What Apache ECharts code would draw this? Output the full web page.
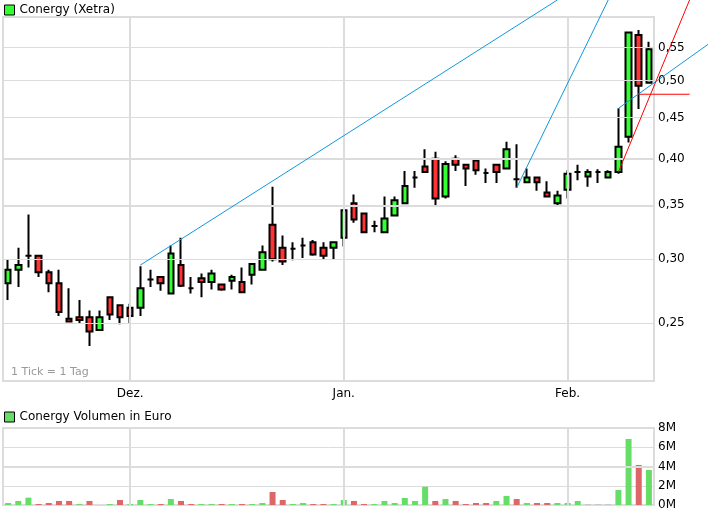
<!DOCTYPE html>
<html><head><meta charset="utf-8">
<script src="https://cdn.jsdelivr.net/npm/echarts@6/dist/echarts.min.js"></script>
<style>html,body{margin:0;padding:0;background:#fff}#c{width:708px;height:517px}</style>
</head><body><div id="c"></div>
<script>
// ---- data ----
const monthNames = ['Dez.', 'Jan.', 'Feb.'];
const monthStartIndex = [12, 33, 55];
const opens  = [0.280,0.291,0.303,0.303,0.289,0.280,0.253,0.254,0.254,0.245,0.269,0.263,0.261,0.261,0.283,0.285,
                0.272,0.295,0.276,0.284,0.281,0.279,0.282,0.281,0.287,0.291,0.331,0.310,0.309,0.312,0.315,0.310,
                0.310,0.319,0.352,0.342,0.330,0.324,0.340,0.352,0.379,0.391,0.400,0.359,0.400,0.393,0.398,0.384,
                0.393,0.389,0.377,0.374,0.379,0.363,0.352,0.366,0.385,0.380,0.385,0.379,0.385,0.426,0.570,0.497];
const closes = [0.291,0.295,0.303,0.289,0.280,0.258,0.251,0.252,0.244,0.254,0.256,0.254,0.255,0.276,0.283,0.280,
                0.305,0.278,0.276,0.281,0.288,0.275,0.285,0.273,0.296,0.306,0.300,0.298,0.309,0.312,0.304,0.303,
                0.315,0.345,0.336,0.324,0.330,0.337,0.355,0.370,0.379,0.385,0.357,0.394,0.393,0.389,0.387,0.384,
                0.385,0.411,0.377,0.379,0.374,0.359,0.360,0.383,0.385,0.385,0.385,0.385,0.414,0.574,0.493,0.547];
const lows   = [0.267,0.277,0.293,0.285,0.273,0.255,0.251,0.250,0.234,0.245,0.252,0.249,0.250,0.255,0.277,0.274,
                0.272,0.277,0.272,0.269,0.275,0.274,0.275,0.273,0.279,0.291,0.298,0.295,0.299,0.301,0.303,0.300,
                0.300,0.311,0.333,0.324,0.324,0.324,0.340,0.352,0.368,0.385,0.350,0.357,0.386,0.370,0.382,0.373,
                0.373,0.389,0.368,0.374,0.365,0.359,0.349,0.357,0.376,0.369,0.373,0.378,0.383,0.419,0.461,0.497];
const highs  = [0.300,0.310,0.341,0.303,0.291,0.291,0.276,0.267,0.259,0.259,0.269,0.263,0.264,0.294,0.291,0.285,
                0.312,0.319,0.285,0.288,0.291,0.279,0.287,0.293,0.296,0.312,0.369,0.321,0.315,0.319,0.317,0.315,
                0.315,0.345,0.361,0.342,0.335,0.359,0.359,0.386,0.386,0.411,0.408,0.397,0.404,0.394,0.398,0.389,
                0.393,0.420,0.417,0.389,0.379,0.375,0.365,0.387,0.393,0.388,0.388,0.387,0.462,0.574,0.578,0.559];
// volume in million euro
const volumesM = [0.21,0.42,0.76,0.10,0.21,0.42,0.42,0.10,0.42,0.00,0.10,0.52,0.10,0.52,0.10,0.10,
                  0.62,0.42,0.10,0.10,0.10,0.10,0.10,0.10,0.10,0.21,1.35,0.52,0.10,0.21,0.10,0.10,
                  0.10,0.52,0.42,0.10,0.10,0.42,0.21,0.73,0.42,1.90,0.42,0.62,0.42,0.10,0.21,0.21,
                  0.42,0.94,0.62,0.21,0.21,0.21,0.21,0.21,0.42,0.10,0.10,0.10,1.56,6.86,4.16,3.64];
const priceTicks = [0.25, 0.30, 0.35, 0.40, 0.45, 0.50, 0.55];
const priceTickLabels = ['0,25', '0,30', '0,35', '0,40', '0,45', '0,50', '0,55'];
const majorPriceTicks = [0.35, 0.40];
const volumeMajorTick = 4;
// trend lines: [fromIndex, fromPrice, toIndex, toPrice]
const blueTrendLines = [
  [13, 0.295, 53.57, 0.630],
  [50, 0.368, 58.85, 0.630],
  [60.1, 0.462, 68.81, 0.557]
];
const redTrendLines = [
  [60.48, 0.385, 67.37, 0.630],
  [61.96, 0.481, 66.97, 0.481]
];

// ---- chart ----
const FONT = 'DejaVu Sans';
const GRID = '#dcdcdc';
const categories = opens.map((_, i) => {
  const k = monthStartIndex.indexOf(i);
  return k >= 0 ? monthNames[k] : '';
});
const candleData = opens.map((o, i) => [o, closes[i], lows[i], highs[i]]);
const volData = volumesM.map((v, i) => {
  let c = '#66dd66';
  if (i > 0) {
    if (closes[i] < closes[i - 1]) c = '#dd6666';
    else if (closes[i] === closes[i - 1]) c = '#c8c8c8';
  }
  return { value: v, itemStyle: { color: c } };
});
const vLines = monthStartIndex.map(i => ({ xAxis: i, lineStyle: { color: GRID, width: 2, type: 'solid' }, label: { show: false } }));

const chart = echarts.init(document.getElementById('c'), null, { renderer: 'canvas' });
chart.setOption({
  animation: false,
  backgroundColor: '#fff',
  textStyle: { fontFamily: FONT },
  legend: [
    { left: 4, top: 4, padding: 0, itemWidth: 10, itemHeight: 10, selectedMode: false,
      data: [{ name: 'Conergy (Xetra)', icon: 'rect', itemStyle: { color: '#33ff33', borderColor: '#000', borderWidth: 1 } }],
      textStyle: { fontSize: 12, color: '#000', fontFamily: FONT } },
    { left: 4, top: 411, padding: 0, itemWidth: 10, itemHeight: 10, selectedMode: false,
      data: [{ name: 'Conergy Volumen in Euro', icon: 'rect', itemStyle: { color: '#66dd66', borderColor: '#000', borderWidth: 1 } }],
      textStyle: { fontSize: 12, color: '#000', fontFamily: FONT } }
  ],
  title: { text: '1 Tick = 1 Tag', left: 11, top: 367, padding: 0,
    textStyle: { fontSize: 11, fontWeight: 'normal', color: '#999', fontFamily: FONT } },
  grid: [
    { left: 3, right: 54, top: 17, bottom: 136, show: true, borderColor: GRID, borderWidth: 2, outerBoundsMode: 'none', containLabel: false },
    { left: 3, right: 54, top: 428, bottom: 12, show: true, borderColor: GRID, borderWidth: 2, outerBoundsMode: 'none', containLabel: false }
  ],
  xAxis: [
    { type: 'category', gridIndex: 0, data: categories, boundaryGap: true,
      axisLine: { show: false }, axisTick: { show: false }, splitLine: { show: false },
      axisLabel: { interval: 0, margin: 7, fontSize: 12, color: '#000', fontFamily: FONT } },
    { type: 'category', gridIndex: 1, data: categories, boundaryGap: true,
      axisLine: { show: false }, axisTick: { show: false }, splitLine: { show: false }, axisLabel: { show: false } }
  ],
  yAxis: [
    { type: 'log', gridIndex: 0, min: 0.2117, max: 0.60, position: 'right',
      axisLine: { show: false }, axisTick: { show: false }, axisLabel: { show: false }, splitLine: { show: false } },
    { type: 'value', gridIndex: 1, min: 0, max: 8, interval: 2, position: 'right',
      axisLine: { show: false }, axisTick: { show: false }, splitLine: { lineStyle: { color: GRID, width: 1 } },
      axisLabel: { margin: 4, fontSize: 12, color: '#000', fontFamily: FONT, formatter: v => v + 'M' } }
  ],
  series: [
    { type: 'line', xAxisIndex: 0, yAxisIndex: 0, data: [], z: 1, silent: true,
      markLine: { silent: true, symbol: ['none', 'none'], animation: false,
        data: priceTicks.map((v, k) => ({ yAxis: v,
          lineStyle: { color: GRID, width: majorPriceTicks.includes(v) ? 2 : 1, type: 'solid' },
          label: { show: true, position: 'end', distance: 4, formatter: priceTickLabels[k], color: '#000', fontSize: 12, fontFamily: FONT } }))
          .concat(vLines) } },
    { type: 'line', xAxisIndex: 1, yAxisIndex: 1, data: [], z: 1, silent: true,
      markLine: { silent: true, symbol: ['none', 'none'], animation: false,
        data: vLines.concat([{ yAxis: volumeMajorTick, lineStyle: { color: GRID, width: 2, type: 'solid' }, label: { show: false } }]) } },
    { name: 'Conergy (Xetra)', type: 'candlestick', xAxisIndex: 0, yAxisIndex: 0, z: 3, barWidth: 6,
      itemStyle: { color: '#33ff33', color0: '#ff3333', borderColor: '#000', borderColor0: '#000', borderColorDoji: '#000', borderWidth: 2 },
      data: candleData },
    { name: 'Conergy Volumen in Euro', type: 'bar', xAxisIndex: 1, yAxisIndex: 1, z: 3, barWidth: 6,
      data: volData }
  ]
});

function toPx(i, p) { return chart.convertToPixel({ gridIndex: 0 }, [i, p]); }
const graphics = [];
blueTrendLines.forEach(t => {
  const a = toPx(t[0], t[1]), b = toPx(t[2], t[3]);
  graphics.push({ type: 'line', silent: true, z: 20, shape: { x1: a[0], y1: a[1], x2: b[0], y2: b[1] }, style: { stroke: '#1199dd', lineWidth: 1 } });
});
redTrendLines.forEach(t => {
  const a = toPx(t[0], t[1]), b = toPx(t[2], t[3]);
  graphics.push({ type: 'line', silent: true, z: 20, shape: { x1: a[0], y1: a[1], x2: b[0], y2: b[1] }, style: { stroke: '#ff0000', lineWidth: 1 } });
});
chart.setOption({ graphic: graphics });
</script></body></html>
